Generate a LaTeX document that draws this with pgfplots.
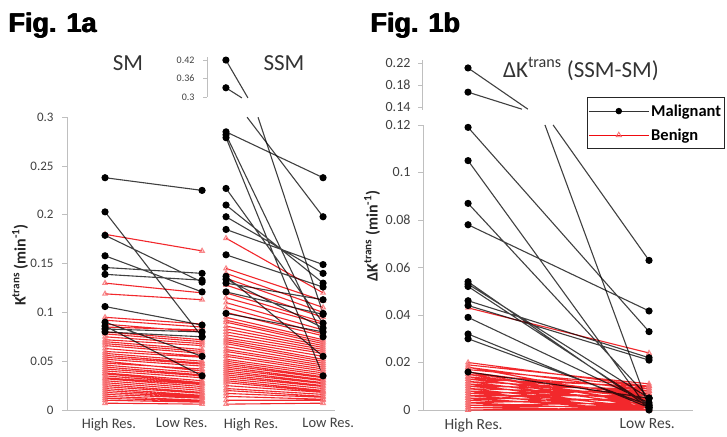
\documentclass[border=0pt]{standalone}
\usepackage{fontspec}
\setmainfont{Carlito}
\newfontfamily\figfont{Liberation Sans}
\usepackage{pgfplots}
\pgfplotsset{compat=1.18}
\definecolor{mred}{RGB}{240,10,15}
\definecolor{axgray}{RGB}{191,191,191}
\definecolor{txtgray}{RGB}{64,64,64}
\pgfplotsset{
  brk/.style={scale only axis, clip=false, unbounded coords=jump,
    axis line style={axgray, line width=0.8pt, -},
    tick style={axgray, line width=0.8pt}, tick align=outside, major tick length=5pt,
    ticklabel style={text=txtgray},
    x tick style={draw=none}},
  mal/.style={draw=black, draw opacity=0.75, line width=1.1pt, mark=*, mark size=3pt,
    mark options={fill=black, draw=black, draw opacity=1, solid}},
  ben/.style={draw=mred, draw opacity=0.88, line width=1.1pt, mark=triangle, mark size=2.6pt,
    mark options={draw=mred!60, draw opacity=0.8, solid}},
}
\begin{document}
\begin{tikzpicture}
\useasboundingbox (0pt,0pt) rectangle (727pt,436pt);
% ---------------- Fig 1a lower ----------------
\begin{axis}[brk, at={(67pt,26pt)}, anchor=south west, width=268pt, height=292.8pt,
  xmin=-0.392, xmax=2.37, ymin=0, ymax=0.3,
  axis x line*=bottom, axis y line*=left,
  xtick={0.04,0.79,1.505,2.30}, xticklabels={High Res.,Low Res.,High Res.,Low Res.},
  xticklabel style={font=\fontsize{14.5}{16}\selectfont},
  ytick={0,0.05,0.1,0.15,0.2,0.25,0.3}, yticklabels={0,0.05,0.1,0.15,0.2,0.25,0.3},
  yticklabel style={font=\fontsize{13}{15}\selectfont, xshift=-5pt}]
% SM benign
\addplot[ben] coordinates {
(0,0.180)(1,0.163)(0,nan)(0,0.130)(1,0.120)(0,nan)(0,0.119)(1,0.113)(0,nan)
(0,0.095)(1,0.088)(0,nan)(0,0.092)(1,0.085)(0,nan)(0,0.088)(1,0.080)(0,nan)
(0,0.085)(1,0.082)(0,nan)(0,0.080)(1,0.072)(0,nan)(0,0.078)(1,0.070)(0,nan)
(0,0.075)(1,0.068)(0,nan)(0,0.072)(1,0.066)(0,nan)(0,0.070)(1,0.062)(0,nan)
(0,0.068)(1,0.060)(0,nan)(0,0.066)(1,0.058)(0,nan)(0,0.063)(1,0.055)(0,nan)
(0,0.060)(1,0.054)(0,nan)(0,0.058)(1,0.050)(0,nan)(0,0.056)(1,0.048)(0,nan)
(0,0.054)(1,0.047)(0,nan)(0,0.052)(1,0.045)(0,nan)(0,0.050)(1,0.040)(0,nan)
(0,0.048)(1,0.042)(0,nan)(0,0.046)(1,0.038)(0,nan)(0,0.044)(1,0.036)(0,nan)
(0,0.042)(1,0.035)(0,nan)(0,0.040)(1,0.033)(0,nan)(0,0.038)(1,0.030)(0,nan)
(0,0.037)(1,0.028)(0,nan)(0,0.035)(1,0.027)(0,nan)(0,0.033)(1,0.026)(0,nan)
(0,0.032)(1,0.024)(0,nan)(0,0.030)(1,0.022)(0,nan)(0,0.028)(1,0.020)(0,nan)
(0,0.026)(1,0.018)(0,nan)(0,0.024)(1,0.017)(0,nan)(0,0.022)(1,0.015)(0,nan)
(0,0.020)(1,0.014)(0,nan)(0,0.018)(1,0.013)(0,nan)(0,0.016)(1,0.012)(0,nan)
(0,0.014)(1,0.010)(0,nan)(0,0.012)(1,0.009)(0,nan)(0,0.010)(1,0.008)(0,nan)
(0,0.007)(1,0.006)};
% SSM benign
\addplot[ben] coordinates {
(1.247,0.176)(2.247,0.120)(0,nan)(1.247,0.145)(2.247,0.112)(0,nan)(1.247,0.140)(2.247,0.105)(0,nan)
(1.247,0.135)(2.247,0.100)(0,nan)(1.247,0.128)(2.247,0.095)(0,nan)(1.247,0.120)(2.247,0.090)(0,nan)
(1.247,0.115)(2.247,0.088)(0,nan)(1.247,0.110)(2.247,0.082)(0,nan)(1.247,0.105)(2.247,0.078)(0,nan)
(1.247,0.100)(2.247,0.076)(0,nan)(1.247,0.095)(2.247,0.072)(0,nan)(1.247,0.092)(2.247,0.070)(0,nan)
(1.247,0.090)(2.247,0.068)(0,nan)(1.247,0.086)(2.247,0.066)(0,nan)(1.247,0.083)(2.247,0.064)(0,nan)
(1.247,0.080)(2.247,0.062)(0,nan)(1.247,0.077)(2.247,0.060)(0,nan)(1.247,0.074)(2.247,0.058)(0,nan)
(1.247,0.072)(2.247,0.055)(0,nan)(1.247,0.070)(2.247,0.052)(0,nan)(1.247,0.068)(2.247,0.050)(0,nan)
(1.247,0.065)(2.247,0.048)(0,nan)(1.247,0.062)(2.247,0.046)(0,nan)(1.247,0.060)(2.247,0.044)(0,nan)
(1.247,0.057)(2.247,0.042)(0,nan)(1.247,0.055)(2.247,0.040)(0,nan)(1.247,0.052)(2.247,0.038)(0,nan)
(1.247,0.050)(2.247,0.036)(0,nan)(1.247,0.048)(2.247,0.034)(0,nan)(1.247,0.046)(2.247,0.033)(0,nan)
(1.247,0.044)(2.247,0.031)(0,nan)(1.247,0.042)(2.247,0.030)(0,nan)(1.247,0.040)(2.247,0.028)(0,nan)
(1.247,0.038)(2.247,0.027)(0,nan)(1.247,0.036)(2.247,0.025)(0,nan)(1.247,0.034)(2.247,0.024)(0,nan)
(1.247,0.032)(2.247,0.022)(0,nan)(1.247,0.030)(2.247,0.020)(0,nan)(1.247,0.028)(2.247,0.019)(0,nan)
(1.247,0.025)(2.247,0.018)(0,nan)(1.247,0.022)(2.247,0.016)(0,nan)(1.247,0.020)(2.247,0.014)(0,nan)
(1.247,0.017)(2.247,0.013)(0,nan)(1.247,0.014)(2.247,0.011)(0,nan)(1.247,0.010)(2.247,0.010)(0,nan)
(1.247,0.006)(2.247,0.007)};
% SM malignant
\addplot[mal] coordinates {
(0,0.238)(1,0.225)(0,nan)(0,0.203)(1,0.075)(0,nan)(0,0.179)(1,0.131)(0,nan)
(0,0.158)(1,0.121)(0,nan)(0,0.146)(1,0.140)(0,nan)(0,0.139)(1,0.133)(0,nan)
(0,0.106)(1,0.087)(0,nan)(0,0.090)(1,0.055)(0,nan)(0,0.086)(1,0.035)(0,nan)
(0,0.083)(1,0.080)(0,nan)(0,0.080)(1,0.075)};
% SSM malignant
\addplot[mal] coordinates {
(1.247,0.285)(2.247,0.238)(0,nan)(1.247,0.282)(2.247,0.075)(0,nan)(1.247,0.279)(2.247,0.035)(0,nan)
(1.247,0.227)(2.247,0.089)(0,nan)(1.247,0.210)(2.247,0.130)(0,nan)(1.247,0.198)(2.247,0.140)(0,nan)
(1.247,0.185)(2.247,0.149)(0,nan)(1.247,0.159)(2.247,0.126)(0,nan)(1.247,0.137)(2.247,0.055)(0,nan)
(1.247,0.134)(2.247,0.084)(0,nan)(1.247,0.130)(2.247,0.113)(0,nan)(1.247,0.121)(2.247,0.098)(0,nan)
(1.247,0.099)(2.247,0.080)};
\addplot[mal, mark indices={2}] coordinates {(1.464,0.3)(2.247,0.198)};
\addplot[mal, mark indices={2}] coordinates {(1.577,0.3)(2.247,0.099)};
\end{axis}
% ---------------- Fig 1a upper break ----------------
\begin{axis}[brk, at={(207pt,339pt)}, anchor=south west, width=127.8pt, height=40pt,
  xmin=1.052, xmax=2.37, ymin=0.3, ymax=0.43,
  axis x line=none, axis y line*=left, major tick length=4pt,
  ytick={0.3,0.36,0.42}, yticklabels={0.3,0.36,0.42},
  yticklabel style={font=\fontsize{10}{12}\selectfont, xshift=-5pt}]
\addplot[mal, mark indices={1}] coordinates {(1.247,0.42)(1.474,0.297)};
\addplot[mal, mark indices={1}] coordinates {(1.247,0.33)(1.412,0.297)};
\end{axis}
% ---------------- Fig 1b lower ----------------
\begin{axis}[brk, at={(423pt,26pt)}, anchor=south west, width=270pt, height=285pt,
  xmin=-0.249, xmax=1.243, ymin=0, ymax=0.12,
  axis x line*=bottom, axis y line*=left,
  xtick={0.03,0.99}, xticklabels={High Res.,Low Res.},
  xticklabel style={font=\fontsize{15.5}{17}\selectfont},
  ytick={0,0.02,0.04,0.06,0.08,0.1,0.12}, yticklabels={0,0.02,0.04,0.06,0.08,0.1,0.12},
  yticklabel style={font=\fontsize{14}{16}\selectfont, xshift=-4pt},
  legend style={at={(0.607,1.098)}, anchor=north west, draw=black!85, line width=1pt,
    font=\bfseries\fontsize{16.5}{18}\selectfont, row sep=7pt, inner xsep=1pt, inner ysep=5pt,
    cells={anchor=west}},
  legend image code/.code={\draw[mark repeat=2,mark phase=2,#1] plot coordinates {(0pt,0pt) (30pt,0pt) (60pt,0pt)};}]
\addlegendimage{black!80, line width=0.8pt, mark=*, mark size=2.8pt, mark options={fill=black, draw=black}}
\addlegendentry{Malignant}
\addlegendimage{mred, line width=0.8pt, mark=triangle, mark size=3pt, mark options={draw=mred!60}}
\addlegendentry{Benign}
\addplot[ben, forget plot] coordinates {
(0,0.043)(1,0.024)(0,nan)
(0,0.020)(1,0.010)(0,nan)(0,0.019)(1,0.011)(0,nan)(0,0.018)(1,0.008)(0,nan)(0,0.018)(1,0.004)(0,nan)
(0,0.017)(1,0.010)(0,nan)(0,0.016)(1,0.006)(0,nan)(0,0.016)(1,0.002)(0,nan)(0,0.015)(1,0.009)(0,nan)
(0,0.015)(1,0.003)(0,nan)(0,0.014)(1,0.007)(0,nan)(0,0.014)(1,0.001)(0,nan)(0,0.013)(1,0.010)(0,nan)
(0,0.013)(1,0.005)(0,nan)(0,0.012)(1,0.008)(0,nan)(0,0.012)(1,0.002)(0,nan)(0,0.011)(1,0.006)(0,nan)
(0,0.011)(1,0.000)(0,nan)(0,0.010)(1,0.009)(0,nan)(0,0.010)(1,0.004)(0,nan)(0,0.009)(1,0.007)(0,nan)
(0,0.009)(1,0.001)(0,nan)(0,0.008)(1,0.005)(0,nan)(0,0.008)(1,0.000)(0,nan)(0,0.007)(1,0.008)(0,nan)
(0,0.007)(1,0.003)(0,nan)(0,0.006)(1,0.006)(0,nan)(0,0.006)(1,0.001)(0,nan)(0,0.005)(1,0.004)(0,nan)
(0,0.005)(1,0.000)(0,nan)(0,0.004)(1,0.010)(0,nan)(0,0.004)(1,0.002)(0,nan)(0,0.003)(1,0.005)(0,nan)
(0,0.003)(1,0.000)(0,nan)(0,0.002)(1,0.003)(0,nan)(0,0.002)(1,0.001)(0,nan)(0,0.001)(1,0.002)(0,nan)
(0,0.001)(1,0.000)(0,nan)(0,0.000)(1,0.001)(0,nan)(0,0.000)(1,0.000)};
\addplot[mal, forget plot] coordinates {
(0,0.119)(1,0.033)(0,nan)(0,0.105)(1,0.000)(0,nan)(0,0.087)(1,0.005)(0,nan)
(0,0.078)(1,0.0417)(0,nan)(0,0.054)(1,0.001)(0,nan)(0,0.053)(1,0.005)(0,nan)
(0,0.052)(1,0.002)(0,nan)(0,0.046)(1,0.022)(0,nan)(0,0.044)(1,0.021)(0,nan)
(0,0.039)(1,0.003)(0,nan)(0,0.032)(1,0.001)(0,nan)(0,0.030)(1,0.002)(0,nan)
(0,0.016)(1,0.005)};
\addplot[mal, mark indices={2}, forget plot] coordinates {(0.425,0.12)(1,0.001)};
\addplot[mal, mark indices={2}, forget plot] coordinates {(0.47,0.12)(1,0.063)};
\end{axis}
% ---------------- Fig 1b upper break ----------------
\begin{axis}[brk, at={(422pt,326.25pt)}, anchor=south west, width=271pt, height=49.5pt,
  xmin=-0.2541, xmax=1.243, ymin=0.135, ymax=0.225,
  axis x line=none, axis y line*=left, major tick length=4pt,
  ytick={0.14,0.18,0.22}, yticklabels={0.14,0.18,0.22},
  yticklabel style={font=\fontsize{14}{16}\selectfont, xshift=-4pt}]
\addplot[mal, mark indices={1}] coordinates {(0,0.211)(0.331,0.136)};
\addplot[mal, mark indices={1}] coordinates {(0,0.167)(0.298,0.136)};
\end{axis}
% ---------------- texts ----------------
\foreach \s in {0pt,0.45pt,0.9pt}{
  \node[anchor=base west, font=\figfont\bfseries\fontsize{27}{30}\selectfont, inner sep=0pt] at ([xshift=\s]8pt,403pt) {Fig. 1a};
  \node[anchor=base west, font=\figfont\bfseries\fontsize{27}{30}\selectfont, inner sep=0pt] at ([xshift=\s]370pt,403pt) {Fig. 1b};
}
\node[font=\fontsize{23}{26}\selectfont, text=black!80] at (128pt,372.5pt) {SM};
\node[font=\fontsize{23}{26}\selectfont, text=black!80] at (284pt,372.5pt) {SSM};
\node[font=\fontsize{23}{26}\selectfont, text=black!80] at (581pt,367pt) {ΔK\textsuperscript{trans} (SSM-SM)};
\node[rotate=90, font=\bfseries\fontsize{16}{18}\selectfont, text=black!85] at (20pt,171pt) {K\textsuperscript{trans} (min\textsuperscript{-1})};
\node[rotate=90, font=\bfseries\fontsize{16}{18}\selectfont, text=black!85] at (372pt,200pt) {ΔK\textsuperscript{trans} (min\textsuperscript{-1})};
\end{tikzpicture}
\end{document}
